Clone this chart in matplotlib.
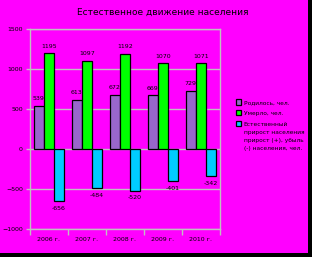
import matplotlib.pyplot as plt
import numpy as np
from matplotlib.patches import Rectangle

# Естественное движение населения
years = ['2006 г.', '2007 г.', '2008 г.', '2009 г.', '2010 г.']
born = [539, 613, 672, 669, 729]
died = [1195, 1097, 1192, 1070, 1071]
natural = [-656, -484, -520, -401, -342]

labels = ['Родилось, чел.', 'Умерло, чел.', 'Естественный']
label_tail = 'прирост населения\nприрост (+), убыль\n(-) населения, чел.'
colors = ['#9966CC', '#00FF00', '#00CCFF']

fig = plt.figure(figsize=(3.12, 2.57), dpi=100, facecolor='black')
# magenta background with black shadow at right and bottom
fig.patches.append(Rectangle((0, 4 / 257), 308 / 312, 253 / 257, transform=fig.transFigure,
                             facecolor='#FF00FF', edgecolor='none', zorder=-10))

ax = fig.add_axes([29.7 / 312, 1 - 229 / 257, 190.3 / 312, 200 / 257])
ax.set_facecolor('#FF00FF')

x = np.arange(len(years))
w = 0.265
series = [born, died, natural]
for i, (vals, c, lab) in enumerate(zip(series, colors, labels)):
    pos = x + (i - 1) * w
    ax.bar(pos, vals, w, color=c, edgecolor='black', linewidth=0.9, label=lab, zorder=3)
    for p, v in zip(pos, vals):
        if v >= 0:
            ax.text(p, v + 60, str(v), ha='center', va='bottom', fontsize=4.5, zorder=4)
        else:
            ax.text(p, v - 60, str(v), ha='center', va='top', fontsize=4.5, zorder=4)

ax.set_xlim(-0.5, len(years) - 0.5)
ax.set_ylim(-1000, 1500)
ax.set_yticks([-1000, -500, 0, 500, 1000, 1500])
ax.set_xticks(x)
ax.set_xticklabels(years, fontsize=4.5)
ax.set_xticks(np.arange(-0.5, len(years)), minor=True)
ax.tick_params(axis='x', which='major', length=0, pad=6)
ax.tick_params(axis='x', which='minor', length=4, color='#C0C0C0', width=1)
ax.tick_params(axis='y', labelsize=4.5, length=3, color='#C0C0C0', width=1, pad=2)
ax.grid(axis='y', color='#C0C0C0', linewidth=1, zorder=1)
for s in ax.spines.values():
    s.set_color('#C0C0C0')
    s.set_linewidth(1)

fig.text(163 / 312, 1 - 12 / 257, 'Естественное движение населения',
         ha='center', va='center', fontsize=6.5)

leg = ax.legend(loc='upper left', bbox_to_anchor=(1.07, 0.66), frameon=False, fontsize=4.2,
                handlelength=1.0, handleheight=1.0, handletextpad=0.4, labelspacing=0.9,
                borderaxespad=0)

# continuation lines of the third legend entry, under its first line
fig.canvas.draw()
bb = leg.get_texts()[2].get_window_extent().transformed(fig.transFigure.inverted())
fig.text(bb.x0, bb.y0 - 3.5 / 257, label_tail, ha='left', va='top', fontsize=4.2,
         linespacing=1.75)

plt.savefig('out.png', dpi=100, facecolor=fig.get_facecolor())
